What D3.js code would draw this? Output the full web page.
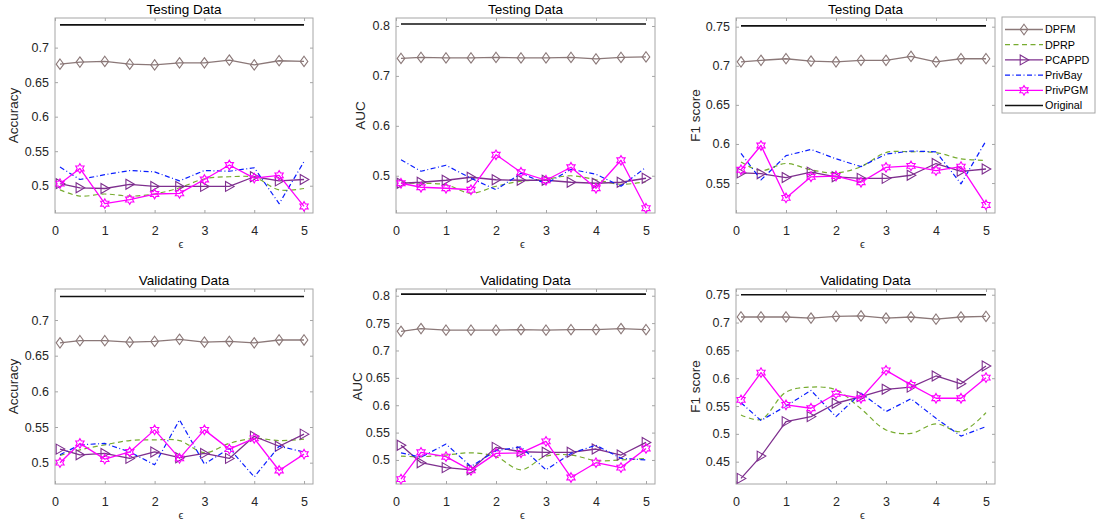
<!DOCTYPE html>
<html>
<head>
<meta charset="utf-8">
<script src="https://cdn.jsdelivr.net/npm/d3@7"></script>
<style>
  html, body { margin: 0; padding: 0; background: #fff; }
  svg { display: block; font-family: "Liberation Sans", Arial, Helvetica, sans-serif; }
</style>
</head>
<body>
<svg id="chart" width="1096" height="521"></svg>
<script>
// ---------------- DATA ----------------
const epsilon = [0.1, 0.5, 1, 1.5, 2, 2.5, 3, 3.5, 4, 4.5, 5];
const methods = ["DPFM", "DPRP", "PCAPPD", "PrivBay", "PrivPGM", "Original"];
const xTicks = [0, 1, 2, 3, 4, 5];

// Testing Data - Accuracy
const testAccDPFM     = [0.676, 0.679, 0.680, 0.676, 0.675, 0.678, 0.678, 0.682, 0.675, 0.681, 0.680];
const testAccDPRP     = [0.494, 0.485, 0.488, 0.485, 0.488, 0.497, 0.510, 0.513, 0.512, 0.494, 0.496];
const testAccPCAPPD   = [0.503, 0.497, 0.496, 0.502, 0.499, 0.499, 0.499, 0.499, 0.513, 0.507, 0.509];
const testAccPrivBay  = [0.527, 0.509, 0.516, 0.522, 0.520, 0.507, 0.522, 0.521, 0.526, 0.474, 0.535];
const testAccPrivPGM  = [0.503, 0.525, 0.474, 0.480, 0.488, 0.489, 0.509, 0.530, 0.511, 0.515, 0.470];
const testAccOriginal = [0.733, 0.733, 0.733, 0.733, 0.733, 0.733, 0.733, 0.733, 0.733, 0.733, 0.733];

// Testing Data - AUC
const testAucDPFM     = [0.735, 0.737, 0.736, 0.736, 0.737, 0.736, 0.736, 0.737, 0.734, 0.737, 0.738];
const testAucDPRP     = [0.485, 0.485, 0.482, 0.465, 0.479, 0.489, 0.493, 0.500, 0.492, 0.483, 0.488];
const testAucPCAPPD   = [0.485, 0.487, 0.491, 0.497, 0.492, 0.491, 0.491, 0.487, 0.485, 0.487, 0.495];
const testAucPrivBay  = [0.532, 0.509, 0.521, 0.495, 0.472, 0.505, 0.484, 0.513, 0.503, 0.479, 0.517];
const testAucPrivPGM  = [0.485, 0.477, 0.475, 0.472, 0.542, 0.507, 0.491, 0.517, 0.475, 0.531, 0.435];
const testAucOriginal = [0.804, 0.804, 0.804, 0.804, 0.804, 0.804, 0.804, 0.804, 0.804, 0.804, 0.804];

// Testing Data - F1 score
const testF1DPFM      = [0.705, 0.707, 0.709, 0.706, 0.705, 0.707, 0.707, 0.712, 0.705, 0.709, 0.709];
const testF1DPRP      = [0.577, 0.566, 0.575, 0.567, 0.563, 0.571, 0.589, 0.590, 0.589, 0.581, 0.579];
const testF1PCAPPD    = [0.563, 0.562, 0.557, 0.564, 0.558, 0.556, 0.556, 0.560, 0.575, 0.565, 0.568];
const testF1PrivBay   = [0.588, 0.554, 0.585, 0.593, 0.581, 0.571, 0.587, 0.591, 0.590, 0.549, 0.604];
const testF1PrivPGM   = [0.567, 0.598, 0.531, 0.558, 0.559, 0.551, 0.570, 0.572, 0.566, 0.571, 0.522];
const testF1Original  = [0.751, 0.751, 0.751, 0.751, 0.751, 0.751, 0.751, 0.751, 0.751, 0.751, 0.751];

// Validating Data - Accuracy
const valAccDPFM      = [0.668, 0.671, 0.671, 0.669, 0.670, 0.673, 0.669, 0.670, 0.668, 0.672, 0.672];
const valAccDPRP      = [0.510, 0.518, 0.525, 0.531, 0.532, 0.531, 0.514, 0.527, 0.534, 0.531, 0.533];
const valAccPCAPPD    = [0.519, 0.511, 0.513, 0.506, 0.515, 0.507, 0.513, 0.506, 0.537, 0.523, 0.540];
const valAccPrivBay   = [0.511, 0.525, 0.527, 0.515, 0.497, 0.560, 0.498, 0.520, 0.480, 0.523, 0.515];
const valAccPrivPGM   = [0.500, 0.527, 0.505, 0.515, 0.546, 0.506, 0.546, 0.519, 0.534, 0.489, 0.512];
const valAccOriginal  = [0.733, 0.733, 0.733, 0.733, 0.733, 0.733, 0.733, 0.733, 0.733, 0.733, 0.733];

// Validating Data - AUC
const valAucDPFM      = [0.735, 0.740, 0.737, 0.737, 0.737, 0.738, 0.737, 0.738, 0.738, 0.740, 0.738];
const valAucDPRP      = [0.507, 0.506, 0.509, 0.513, 0.506, 0.482, 0.507, 0.509, 0.499, 0.500, 0.503];
const valAucPCAPPD    = [0.527, 0.495, 0.486, 0.482, 0.523, 0.515, 0.514, 0.514, 0.520, 0.509, 0.532];
const valAucPrivBay   = [0.513, 0.505, 0.529, 0.488, 0.517, 0.524, 0.482, 0.512, 0.527, 0.503, 0.500];
const valAucPrivPGM   = [0.465, 0.514, 0.506, 0.481, 0.512, 0.513, 0.534, 0.468, 0.495, 0.486, 0.521];
const valAucOriginal  = [0.803, 0.803, 0.803, 0.803, 0.803, 0.803, 0.803, 0.803, 0.803, 0.803, 0.803];

// Validating Data - F1 score
const valF1DPFM       = [0.710, 0.710, 0.710, 0.708, 0.711, 0.712, 0.708, 0.710, 0.706, 0.710, 0.711];
const valF1DPRP       = [0.534, 0.526, 0.575, 0.584, 0.579, 0.545, 0.507, 0.501, 0.518, 0.504, 0.538];
const valF1PCAPPD     = [0.420, 0.460, 0.522, 0.531, 0.555, 0.567, 0.580, 0.584, 0.604, 0.590, 0.622];
const valF1PrivBay    = [0.556, 0.524, 0.550, 0.578, 0.531, 0.573, 0.540, 0.563, 0.528, 0.496, 0.513];
const valF1PrivPGM    = [0.561, 0.610, 0.552, 0.546, 0.572, 0.564, 0.614, 0.588, 0.564, 0.564, 0.601];
const valF1Original   = [0.750, 0.750, 0.750, 0.750, 0.750, 0.750, 0.750, 0.750, 0.750, 0.750, 0.750];

// Tick labels
const yTicksTestAcc = [0.5, 0.55, 0.6, 0.65, 0.7];
const yTicksTestAuc = [0.5, 0.6, 0.7, 0.8];
const yTicksTestF1  = [0.55, 0.6, 0.65, 0.7, 0.75];
const yTicksValAcc  = [0.5, 0.55, 0.6, 0.65, 0.7];
const yTicksValAuc  = [0.5, 0.55, 0.6, 0.65, 0.7, 0.75, 0.8];
const yTicksValF1   = [0.45, 0.5, 0.55, 0.6, 0.65, 0.7, 0.75];

// ---------------- STYLE / LAYOUT ----------------
const styles = {
  DPFM:     { color: "#8b7878", dash: null,        marker: "diamond",  width: 1.3 },
  DPRP:     { color: "#77ac30", dash: "5,3.5",     marker: null,       width: 1.2, smooth: true },
  PCAPPD:   { color: "#7e2f8e", dash: null,        marker: "triangle", width: 1.3 },
  PrivBay:  { color: "#0a1eff", dash: "5,2.5,1,2.5", marker: null,     width: 1.2 },
  PrivPGM:  { color: "#ff00ff", dash: null,        marker: "hexagram", width: 1.3 },
  Original: { color: "#111111", dash: null,        marker: null,       width: 1.6 }
};

const panels = [
  { title: "Testing Data", ylabel: "Accuracy", left: 55, right: 313, top: 18, bottom: 213, yDom: [0.4605, 0.7429], ticks: yTicksTestAcc, labX: 18,
    series: [testAccDPFM, testAccDPRP, testAccPCAPPD, testAccPrivBay, testAccPrivPGM, testAccOriginal] },
  { title: "Testing Data", ylabel: "AUC", left: 396, right: 655, top: 18, bottom: 213, yDom: [0.4254, 0.816], ticks: yTicksTestAuc, labX: 365,
    series: [testAucDPFM, testAucDPRP, testAucPCAPPD, testAucPrivBay, testAucPrivPGM, testAucOriginal] },
  { title: "Testing Data", ylabel: "F1 score", left: 736, right: 995, top: 18, bottom: 213, yDom: [0.5117, 0.7611], ticks: yTicksTestF1, labX: 700,
    series: [testF1DPFM, testF1DPRP, testF1PCAPPD, testF1PrivBay, testF1PrivPGM, testF1Original] },
  { title: "Validating Data", ylabel: "Accuracy", left: 55, right: 313, top: 289, bottom: 484, yDom: [0.4701, 0.7435], ticks: yTicksValAcc, labX: 18,
    series: [valAccDPFM, valAccDPRP, valAccPCAPPD, valAccPrivBay, valAccPrivPGM, valAccOriginal] },
  { title: "Validating Data", ylabel: "AUC", left: 396, right: 655, top: 289, bottom: 484, yDom: [0.4561, 0.8123], ticks: yTicksValAuc, labX: 362,
    series: [valAucDPFM, valAucDPRP, valAucPCAPPD, valAucPrivBay, valAucPrivPGM, valAucOriginal] },
  { title: "Validating Data", ylabel: "F1 score", left: 736, right: 995, top: 289, bottom: 484, yDom: [0.4099, 0.7603], ticks: yTicksValF1, labX: 700,
    series: [valF1DPFM, valF1DPRP, valF1PCAPPD, valF1PrivBay, valF1PrivPGM, valF1Original] }
];

const svg = d3.select("#chart");
const axisColor = "#a6a6a6";
const textColor = "#262626";

function markerPath(type) {
  if (type === "diamond") return "M0,-5.2L3.8,0L0,5.2L-3.8,0Z";
  if (type === "triangle") return "M-3.8,-5L4.8,0L-3.8,5Z";
  if (type === "hexagram") {
    const R = 4.8, r = R / Math.sqrt(3);
    const pts = [];
    for (let i = 0; i < 12; i++) {
      const a = -Math.PI / 2 + i * Math.PI / 6;
      const rad = i % 2 === 0 ? R : r;
      pts.push([rad * Math.cos(a), rad * Math.sin(a)]);
    }
    return "M" + pts.map(p => p[0].toFixed(2) + "," + p[1].toFixed(2)).join("L") + "Z";
  }
  return null;
}

panels.forEach(p => {
  const x = d3.scaleLinear().domain([0, 5.18]).range([p.left, p.right]);
  const y = d3.scaleLinear().domain(p.yDom).range([p.bottom, p.top]);
  const g = svg.append("g");

  // box
  g.append("rect").attr("x", p.left).attr("y", p.top)
    .attr("width", p.right - p.left).attr("height", p.bottom - p.top)
    .attr("fill", "#fff").attr("stroke", axisColor).attr("stroke-width", 1);

  const fmt = d => String(+d.toFixed(2));

  const ax = [
    g.append("g").attr("transform", `translate(0,${p.bottom})`)
      .call(d3.axisBottom(x).tickValues(xTicks).tickFormat(fmt).tickSizeInner(-3).tickSizeOuter(0).tickPadding(13)),
    g.append("g").attr("transform", `translate(0,${p.top})`)
      .call(d3.axisTop(x).tickValues(xTicks).tickFormat("").tickSizeInner(-3).tickSizeOuter(0)),
    g.append("g").attr("transform", `translate(${p.left},0)`)
      .call(d3.axisLeft(y).tickValues(p.ticks).tickFormat(fmt).tickSizeInner(-3).tickSizeOuter(0).tickPadding(6)),
    g.append("g").attr("transform", `translate(${p.right},0)`)
      .call(d3.axisRight(y).tickValues(p.ticks).tickFormat("").tickSizeInner(-3).tickSizeOuter(0))
  ];
  ax.forEach(a => {
    a.select(".domain").remove();
    a.selectAll("line").attr("stroke", axisColor);
    a.selectAll("text").attr("fill", textColor).style("font-size", "12.5px")
      .style("font-family", "'Liberation Sans', Arial, sans-serif");
  });

  // series
  methods.forEach((m, i) => {
    const st = styles[m];
    const vals = p.series[i];
    const pts = epsilon.map((e, k) => [e, vals[k]]);
    const line = d3.line().x(d => x(d[0])).y(d => y(d[1]))
      .curve(st.smooth ? d3.curveCatmullRom.alpha(0.5) : d3.curveLinear);
    g.append("path").attr("d", line(pts)).attr("fill", "none")
      .attr("stroke", st.color).attr("stroke-width", st.width)
      .attr("stroke-dasharray", st.dash).attr("stroke-linejoin", "round");
    if (st.marker) {
      g.selectAll(null).data(pts).enter().append("path")
        .attr("d", markerPath(st.marker))
        .attr("transform", d => `translate(${x(d[0])},${y(d[1])})`)
        .attr("fill", "none").attr("stroke", st.color).attr("stroke-width", 1.1);
    }
  });

  // title
  g.append("text").attr("x", (p.left + p.right) / 2).attr("y", p.top - 4)
    .attr("text-anchor", "middle").attr("fill", "#000").style("font-size", "13.5px").text(p.title);
  // x label (epsilon)
  g.append("text").attr("x", (p.left + p.right) / 2 - 3).attr("y", p.bottom + 35)
    .attr("text-anchor", "middle").attr("fill", textColor).style("font-size", "11px").text("\u03F5");
  // y label
  g.append("text").attr("transform", `translate(${p.labX},${(p.top + p.bottom) / 2}) rotate(-90)`)
    .attr("text-anchor", "middle").attr("fill", textColor).style("font-size", "13.5px").text(p.ylabel);
});

// legend
const leg = svg.append("g");
const legLeft = 1002, legTop = 17, legBottom = 113, legRight = 1095;
leg.append("rect").attr("x", legLeft).attr("y", legTop).attr("width", legRight - legLeft).attr("height", legBottom - legTop)
  .attr("fill", "#fff").attr("stroke", axisColor).attr("stroke-width", 1);
const legY = d3.scalePoint().domain(methods).range([29.5, 105.5]);
methods.forEach(m => {
  const st = styles[m];
  const cy = legY(m);
  leg.append("line").attr("x1", 1005).attr("x2", 1043).attr("y1", cy).attr("y2", cy)
    .attr("stroke", st.color).attr("stroke-width", st.width).attr("stroke-dasharray", st.dash);
  if (st.marker) {
    leg.append("path").attr("d", markerPath(st.marker)).attr("transform", `translate(1024,${cy})`)
      .attr("fill", "none").attr("stroke", st.color).attr("stroke-width", 1.1);
  }
  leg.append("text").attr("x", 1045).attr("y", cy + 3.8).attr("fill", "#000")
    .style("font-size", "10.8px").text(m);
});
</script>
</body>
</html>
